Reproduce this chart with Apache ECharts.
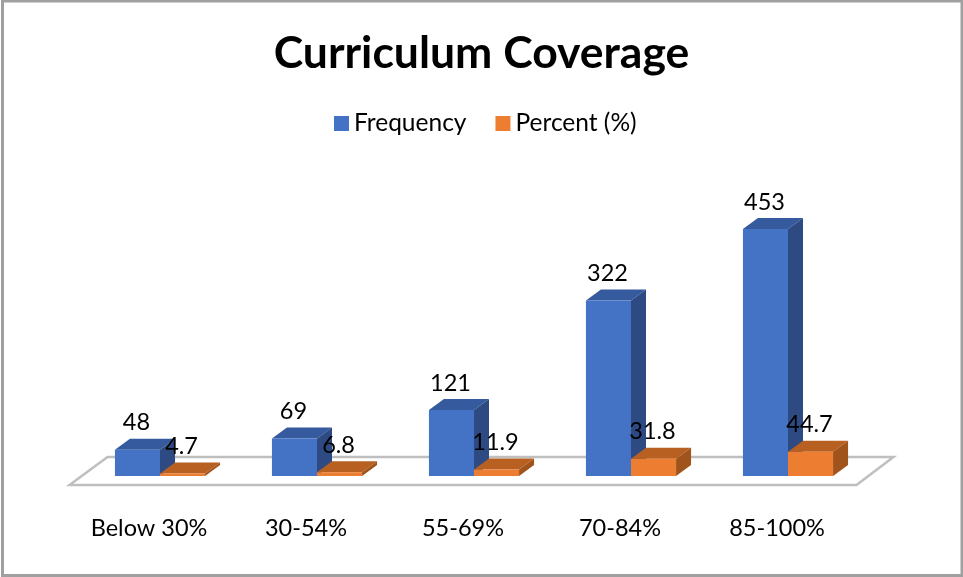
<!DOCTYPE html>
<html>
<head>
<meta charset="utf-8">
<title>Curriculum Coverage</title>
<script src="https://cdn.jsdelivr.net/npm/echarts@6/dist/echarts.min.js"></script>
<style>
  html, body { margin: 0; padding: 0; background: #fff; }
  #chart { width: 963px; height: 577px; }
</style>
</head>
<body>
<div id="chart"></div>
<script>
const categories = ['Below 30%', '30-54%', '55-69%', '70-84%', '85-100%']
const frequency = [48, 69, 121, 322, 453]
const percent = [4.7, 6.8, 11.9, 31.8, 44.7]

const fontName = 'Lato'
const depthX = 15
const depthY = 11

// one 3d box: front face plus top and side, side by side in the category band
const boxRenderer = (seriesIndex, front, top, side) => (params, api) => {
  const base = api.coord([api.value(0), 0])
  const tip = api.coord([api.value(0), api.value(1)])
  const barW = api.size([1, 0])[0] * 0.287
  const x = base[0] + (seriesIndex === 0 ? -barW : 0)
  const yTop = tip[1]
  const yBase = base[1]
  return {
    type: 'group',
    children: [
      {
        type: 'polygon',
        shape: { points: [[x, yTop], [x + depthX, yTop - depthY], [x + barW + depthX, yTop - depthY], [x + barW, yTop]] },
        style: { fill: top }
      },
      {
        type: 'polygon',
        shape: { points: [[x + barW, yTop], [x + barW + depthX, yTop - depthY], [x + barW + depthX, yBase - depthY], [x + barW, yBase]] },
        style: { fill: side }
      },
      {
        type: 'rect',
        shape: { x: x, y: yTop, width: barW, height: yBase - yTop },
        style: { fill: front }
      },
      {
        type: 'text',
        z2: 10,
        style: {
          text: String(api.value(1)),
          x: x + barW / 2 - 1,
          y: yTop - 27,
          align: 'center',
          verticalAlign: 'middle',
          fill: '#000',
          font: '23.5px ' + fontName
        }
      }
    ]
  }
}

// floor plane under the bars, taken from the grid rectangle
const floorRenderer = (params, api) => {
  const rect = params.coordSys
  const yBase = api.coord([0, 0])[1]
  const left = rect.x - 12
  const right = rect.x + rect.width - 10
  return {
    type: 'polygon',
    shape: {
      points: [
        [left, yBase + 9],
        [left + 38, yBase - 19],
        [right + 37, yBase - 19],
        [right, yBase + 9]
      ]
    },
    style: { fill: '#fff', stroke: '#bfbfbf', lineWidth: 2.5 }
  }
}

const chart = echarts.init(document.getElementById('chart'))

chart.setOption({
  animation: false,
  backgroundColor: '#fff',
  textStyle: { fontFamily: fontName },
  title: {
    text: 'Curriculum Coverage',
    left: 'center',
    top: 26,
    textStyle: { fontFamily: fontName, fontSize: 44.5, fontWeight: 'bold', color: '#000' }
  },
  legend: {
    data: ['Frequency', 'Percent (%)'],
    top: 106,
    left: 329,
    icon: 'rect',
    itemWidth: 15,
    itemHeight: 15,
    itemGap: 29,
    textStyle: { fontFamily: fontName, fontSize: 24.5, color: '#000' }
  },
  graphic: [
    {
      type: 'rect',
      silent: true,
      z: -1,
      shape: { x: 2.5, y: 1, width: 959.5, height: 574.5 },
      style: { fill: 'transparent', stroke: '#a0a0a0', lineWidth: 3 }
    }
  ],
  grid: { left: 81.5, right: 96.5, top: 203.5, bottom: 101 },
  xAxis: {
    type: 'category',
    data: categories,
    axisLine: { show: false },
    axisTick: { show: false },
    axisLabel: { color: '#000', fontSize: 23.5, fontFamily: fontName, margin: 40, padding: [0, 22, 0, 0] }
  },
  yAxis: {
    type: 'value',
    min: 0,
    max: 500,
    show: false,
    splitLine: { show: false }
  },
  series: [
    {
      name: 'floor',
      type: 'custom',
      silent: true,
      z: 1,
      data: [[0, 0]],
      renderItem: floorRenderer
    },
    {
      name: 'Frequency',
      type: 'custom',
      z: 2,
      itemStyle: { color: '#4472c4' },
      data: frequency.map((v, i) => [i, v]),
      renderItem: boxRenderer(0, '#4472c4', '#355a9d', '#2d4a82')
    },
    {
      name: 'Percent (%)',
      type: 'custom',
      z: 3,
      itemStyle: { color: '#ed7d31' },
      data: percent.map((v, i) => [i, v]),
      renderItem: boxRenderer(1, '#ed7d31', '#b85f22', '#a0531b')
    }
  ]
})
</script>
</body>
</html>
